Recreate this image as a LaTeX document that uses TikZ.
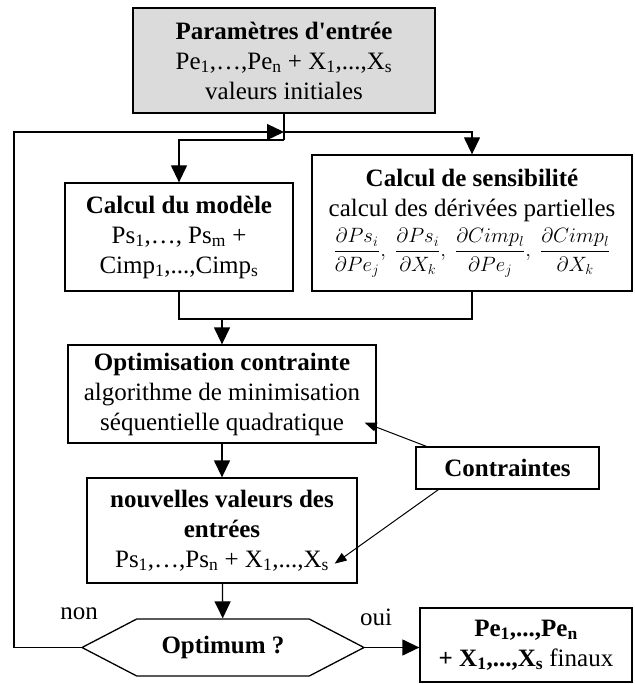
\documentclass[tikz,border=0pt]{standalone}
\usepackage{fontspec}
\setmainfont{Liberation Serif}
\usepackage{amsmath}
\usetikzlibrary{arrows.meta,positioning,shapes.symbols}
\tikzset{>={Triangle[length=17pt,width=16pt]}}

\begin{document}
\begin{tikzpicture}[x=1pt,y=-1pt,
        box/.style={draw,line width=1.3pt,align=center,inner sep=0pt,font=\fontsize{25}{30}\selectfont},
        thinarrow/.style={-{Triangle[length=12pt,width=9pt]},line width=1pt}]

        \useasboundingbox (0,0) rectangle (634,684);

        % nodes
        \node[box,fill=black!14,minimum width=302pt,minimum height=105pt] (entree) at (284,60.5)
            {\textbf{Paramètres d\textquotesingle entrée}\\Pe\textsubscript{1},…,Pe\textsubscript{n} + X\textsubscript{1},...,X\textsubscript{s}\\valeurs initiales};
        \node[box,minimum width=228pt,minimum height=108pt] (modele) at (179,237)
            {\textbf{Calcul du modèle}\\Ps\textsubscript{1},…, Ps\textsubscript{m} +\\Cimp\textsubscript{1},...,Cimp\textsubscript{s}};
        \node[box,minimum width=320pt,minimum height=136pt] (sensi) at (472,223)
            {\textbf{Calcul de sensibilité}\\calcul des dérivées partielles\\[6pt]
             {\fontsize{20}{24}\selectfont$\dfrac{\partial Ps_i}{\partial Pe_j},\;\dfrac{\partial Ps_i}{\partial X_k},\;\dfrac{\partial Cimp_l}{\partial Pe_j},\;\dfrac{\partial Cimp_l}{\partial X_k}$}};
        \node[box,minimum width=308pt,minimum height=98pt] (optim) at (222,394)
            {\textbf{Optimisation contrainte}\\algorithme de minimisation\\séquentielle quadratique};
        \node[box,minimum width=183pt,minimum height=42pt] (contr) at (507.5,468) {\textbf{Contraintes}};
        \node[box,minimum width=270pt,minimum height=105pt] (nouv) at (222,530.5)
            {\textbf{nouvelles valeurs des}\\\textbf{entrées}\\Ps\textsubscript{1},…,Ps\textsubscript{n} + X\textsubscript{1},...,X\textsubscript{s}};
        \node[box,signal,signal to=west and east,signal pointer angle=55,minimum width=282pt,minimum height=57pt] (test) at (223,647.5)
            {\textbf{Optimum ?}};
        \node[box,minimum width=212pt,minimum height=74pt] (final) at (526,645)
            {\textbf{Pe\textsubscript{1},...,Pe\textsubscript{n}}\\\textbf{+ X\textsubscript{1},...,X\textsubscript{s}} finaux};

        \node[font=\fontsize{25}{30}\selectfont] (non) at (79,614) {non};
        \node[font=\fontsize{25}{30}\selectfont] (oui) at (376,617) {oui};

        \coordinate (j1) at (284,132);
        \coordinate (j2) at (284,140);
        \coordinate (fb) at (14,132);
        \coordinate (merge) at (222,319);

        % arrows
        \draw[line width=1.3pt] (entree) -- (j2);
        \draw[->,line width=1.3pt] (j2) -| (modele);
        \draw[->,line width=1.3pt] (j1) -| (sensi);
        \draw[->,line width=1.3pt] (test.west) -| (fb) -- (j1);
        \draw[line width=1.3pt] (modele) |- (merge) -| (sensi);
        \draw[->,line width=1.3pt] (merge) -- (optim);
        \draw[->,line width=1.3pt] (optim) -- (nouv);
        \draw[->,line width=1.3pt] (nouv) -- (test);
        \draw[->,line width=1.3pt] (test.east) -- (test.east -| final.west);
        \draw[thinarrow] ([xshift=11pt]contr.north west) -- ([shift={(-12,-21)}]optim.south east);
        \draw[thinarrow] ([xshift=23pt]contr.south west) -- ([shift={(-23,-20)}]nouv.south east);

    \end{tikzpicture}
\end{document}
